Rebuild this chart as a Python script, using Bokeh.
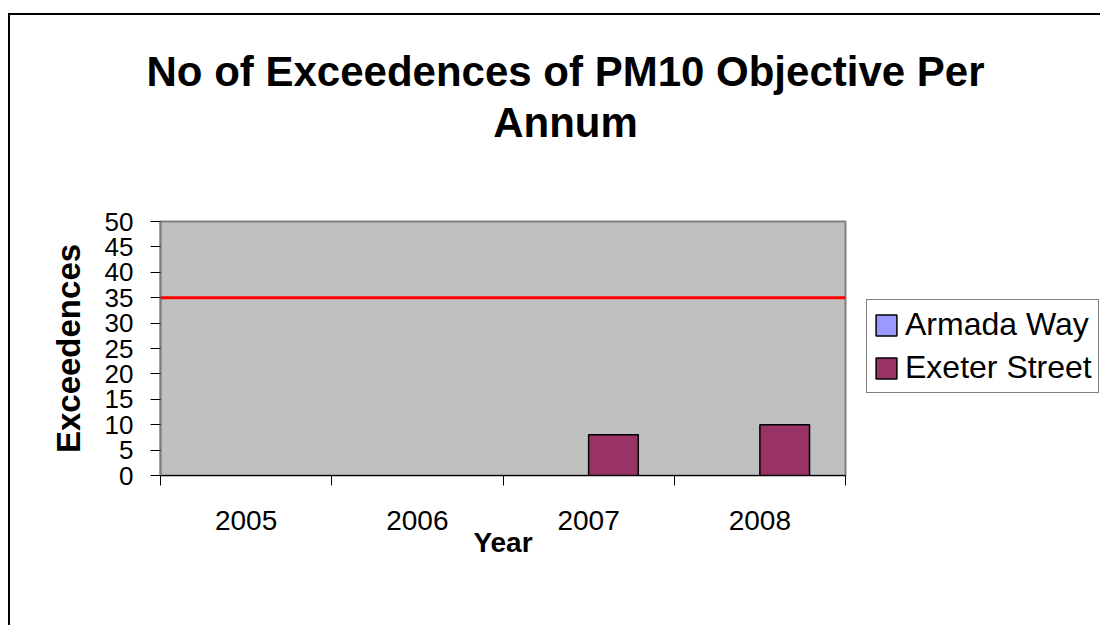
from bokeh.plotting import figure
from bokeh.layouts import column, row
from bokeh.models import (Range1d, FixedTicker, Span, Legend, LegendItem,
                          ColumnDataSource, LinearAxis, CDSView, BooleanFilter)
from bokeh.core.properties import value
from bokeh.embed import file_html
from bokeh.resources import INLINE

# ---- data ----
years = ["2005", "2006", "2007", "2008"]
armada_way = [0, 0, 0, 0]
exeter_street = [0, 0, 8, 10]
objective = 35
y_ticks = [0, 5, 10, 15, 20, 25, 30, 35, 40, 45, 50]
title_lines = ["No of Exceedences of PM10 Objective Per", "Annum"]
series_names = ["Armada Way", "Exeter Street"]
series_colors = ["#9999FF", "#993366"]

FONT = "Liberation Sans"
W = 1090
TOP_H = 190
ROW_H = 420
MAIN_W = 845
idx = list(range(len(years)))
centers = [i + 0.5 for i in idx]
half = 0.145
src_a = ColumnDataSource(dict(x=[c - half for c in centers], top=armada_way))
src_e = ColumnDataSource(dict(x=[c + half for c in centers], top=exeter_street))

# ---- title strip ----
t = figure(width=W, height=TOP_H, output_backend="svg", toolbar_location=None,
           x_range=Range1d(0, W), y_range=Range1d(0, TOP_H),
           min_border=0, x_axis_type=None, y_axis_type=None, frame_align=False)
t.outline_line_color = None
t.xgrid.grid_line_color = None
t.ygrid.grid_line_color = None
t.background_fill_color = "white"
t.border_fill_color = "white"
t.text(x=[555, 555], y=[TOP_H - 56, TOP_H - 107], text=title_lines,
       text_align="center", text_baseline="alphabetic",
       text_font=value(FONT), text_font_size="42px", text_font_style="bold",
       text_color="black")

# ---- main chart ----
p = figure(width=MAIN_W, height=ROW_H, output_backend="svg", toolbar_location=None,
           x_range=Range1d(0, len(years)), y_range=Range1d(0, 50),
           min_border_left=150, min_border_right=10, min_border_top=16,
           min_border_bottom=150, x_axis_type=None, y_axis_type=None,
           frame_align=False)
p.background_fill_color = "#C0C0C0"
p.border_fill_color = "white"
p.outline_line_color = "#808080"
p.outline_line_width = 2

xaxis = LinearAxis(ticker=FixedTicker(ticks=centers, minor_ticks=[0, 1, 2, 3, 4]))
xaxis.major_label_overrides = {c: y for c, y in zip(centers, years)}
xaxis.major_tick_line_color = None
xaxis.major_tick_out = 10
xaxis.major_tick_in = 0
xaxis.minor_tick_out = 10
xaxis.minor_tick_in = 0
xaxis.minor_tick_line_color = "black"
xaxis.axis_line_color = "black"
xaxis.major_label_text_font = FONT
xaxis.major_label_text_font_size = "28px"
xaxis.major_label_text_color = "black"
xaxis.major_label_standoff = 25
xaxis.axis_label = "Year"
xaxis.axis_label_text_font = FONT
xaxis.axis_label_text_font_size = "28px"
xaxis.axis_label_text_font_style = "bold"
xaxis.axis_label_text_color = "black"
xaxis.axis_label_standoff = -6
p.add_layout(xaxis, "below")

yaxis = LinearAxis(ticker=FixedTicker(ticks=y_ticks))
yaxis.major_tick_out = 10
yaxis.major_tick_in = 0
yaxis.minor_tick_line_color = None
yaxis.axis_line_color = "#808080"
yaxis.axis_line_width = 2
yaxis.major_label_text_font = FONT
yaxis.major_label_text_font_size = "26px"
yaxis.major_label_text_color = "black"
yaxis.major_label_standoff = 17
yaxis.axis_label = "Exceedences"
yaxis.axis_label_text_font = FONT
yaxis.axis_label_text_font_size = "33px"
yaxis.axis_label_text_font_style = "bold"
yaxis.axis_label_text_color = "black"
yaxis.axis_label_standoff = 15
p.add_layout(yaxis, "left")

p.ygrid.ticker = FixedTicker(ticks=y_ticks)
p.ygrid.grid_line_color = "black"
p.ygrid.grid_line_width = 1
p.xgrid.grid_line_color = None

# zero-height bars are not drawn (as in the original)
view_a = CDSView(filter=BooleanFilter([v > 0 for v in armada_way]))
view_e = CDSView(filter=BooleanFilter([v > 0 for v in exeter_street]))
p.vbar(x="x", top="top", width=0.29, bottom=0, source=src_a, view=view_a,
       fill_color=series_colors[0], line_color="black", line_width=1.5)
p.vbar(x="x", top="top", width=0.29, bottom=0, source=src_e, view=view_e,
       fill_color=series_colors[1], line_color="black", line_width=1.5)

p.add_layout(Span(location=objective, dimension="width", line_color="#FF0000",
                  line_width=3))

# ---- legend panel (its own figure so nothing is clipped) ----
lg = figure(width=W - MAIN_W, height=ROW_H, output_backend="svg",
            toolbar_location=None, min_border=0, x_axis_type=None,
            y_axis_type=None, frame_align=False,
            x_range=Range1d(0, 1), y_range=Range1d(0, 1))
lg.outline_line_color = None
lg.xgrid.grid_line_color = None
lg.ygrid.grid_line_color = None
lg.background_fill_color = "white"
lg.border_fill_color = "white"
la = lg.vbar(x="x", top="top", width=0.29, bottom=0, source=src_a, visible=False,
             fill_color=series_colors[0], line_color="black", line_width=1.5)
le = lg.vbar(x="x", top="top", width=0.29, bottom=0, source=src_e, visible=False,
             fill_color=series_colors[1], line_color="black", line_width=1.5)
legend = Legend(items=[LegendItem(label=series_names[0], renderers=[la]),
                       LegendItem(label=series_names[1], renderers=[le])],
                location=(11, 232))
legend.label_text_font = FONT
legend.label_text_font_size = "32px"
legend.label_text_color = "black"
legend.glyph_width = 26
legend.glyph_height = 26
legend.label_height = 37
legend.label_standoff = 6
legend.spacing = 6
legend.padding = 6
legend.margin = 0
legend.border_line_color = "black"
legend.border_line_width = 1
legend.background_fill_alpha = 1
legend.inactive_fill_alpha = 0
lg.add_layout(legend)

layout = column(t, row(p, lg, spacing=0), spacing=0)
layout.styles = {"margin-top": "13px", "margin-left": "8px",
                 "border-left": "2px solid black", "border-top": "2px solid black"}

open("out.html", "w").write(file_html(layout, INLINE))
